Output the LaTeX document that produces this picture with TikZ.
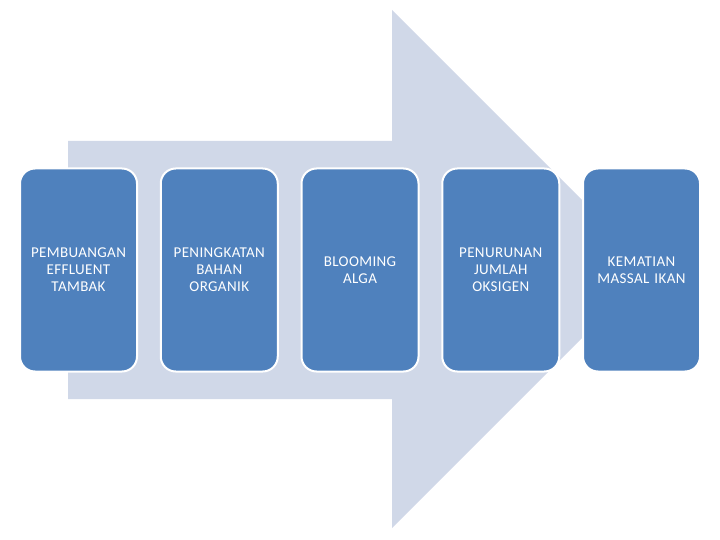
\documentclass[tikz,border=0pt]{standalone}
\usepackage{fontspec}
\setmainfont[LetterSpace=2.5]{Carlito}
\usetikzlibrary{positioning}
\definecolor{arrowfill}{HTML}{D0D8E8}
\definecolor{boxfill}{HTML}{4F81BD}
\tikzset{
	stagebox/.style={draw=white, line width=2pt, fill=boxfill, rounded corners=15pt, minimum width=117pt, minimum height=203pt, text width=114pt, align=center, text=white, font=\fontsize{15}{17}\selectfont, inner sep=0pt}
}
\begin{document}
\begin{tikzpicture}[x=1pt, y=-1pt, line join=round, node distance=21.75pt]
			\useasboundingbox (0,0) rectangle (720,540);
			\fill[arrowfill] (68,141)--(392,141)--(392,10)--(651,269)--(392,528)--(392,399)--(68,399)--cycle;
			\node[stagebox] (buang) at (78.5,270) {PEMBUANGAN\\EFFLUENT\\TAMBAK};
			\node[stagebox, right=of buang] (organik) {PENINGKATAN\\BAHAN\\ORGANIK};
			\node[stagebox, right=of organik] (alga) {BLOOMING\\ALGA};
			\node[stagebox, right=of alga] (oksigen) {PENURUNAN\\JUMLAH\\OKSIGEN};
			\node[stagebox, right=of oksigen] (ikan) {KEMATIAN\\MASSAL IKAN};
		\end{tikzpicture}
\end{document}
